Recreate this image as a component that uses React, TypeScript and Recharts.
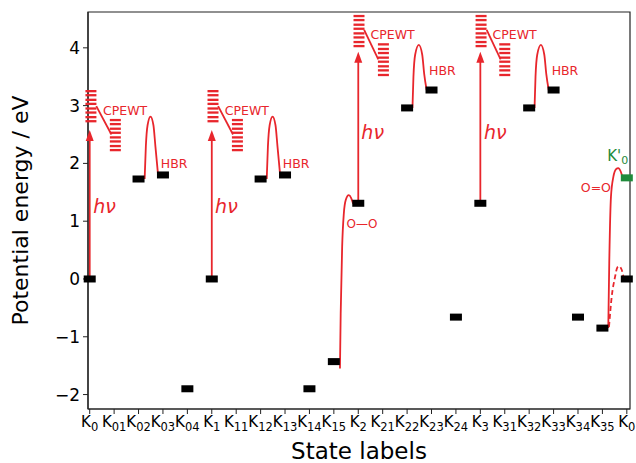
import React from 'react';
import { ComposedChart, XAxis, YAxis, Line, Scatter, ReferenceArea } from 'recharts';

const RED = '#e8262c';
const GREEN = '#1f8b3b';
const FONT = 'DejaVu Sans';

// axes
const xDomain = [-0.07, 22.13];
const yDomain = [-2.25, 4.62];
const yTicks = [-2, -1, 0, 1, 2, 3, 4];
const tickSubs = ['0', '01', '02', '03', '04', '1', '11', '12', '13', '14', '15', '2', '21', '22', '23', '24', '3', '31', '32', '33', '34', '35', '0'];
const xTicks = tickSubs.map((_, i) => i);

// state energies (black bars)
const stateX = [0, 2, 3, 4, 5, 7, 8, 9, 10, 11, 13, 14, 15, 16, 18, 19, 20, 21, 22];
const stateE = [0, 1.73, 1.8, -1.9, 0, 1.73, 1.8, -1.9, -1.43, 1.31, 2.96, 3.27, -0.66, 1.31, 2.96, 3.27, -0.66, -0.85, 0];
// K'0 (green)
const primeState = [{ x: 22, y: 1.75 }];

// photon excitation arrows
const photonX = [0, 5, 11, 16];
const photonFrom = [0, 0, 1.31, 1.31];
const photonTo = [2.58, 2.58, 3.93, 3.93];

// CPEWT level stacks
const stackX = [0.05, 1.05, 5.05, 6.05, 11.03, 12.03, 16.03, 17.0];
const lowUpper = [3.25, 3.18, 3.1, 3.03, 2.95, 2.88, 2.8, 2.73];
const lowLower = [2.75, 2.68, 2.6, 2.53, 2.45, 2.38, 2.3, 2.23];
const highUpper = [4.55, 4.48, 4.4, 4.33, 4.25, 4.18, 4.1, 4.03];
const highLower = [4.06, 3.98, 3.91, 3.83, 3.76, 3.68, 3.61, 3.53];
const stackLevels = [lowUpper, lowLower, lowUpper, lowLower, highUpper, highLower, highUpper, highLower];

const cpewtLinks = [
  [{ x: 0.27, y: 2.99 }, { x: 0.89, y: 2.5 }],
  [{ x: 5.26, y: 2.99 }, { x: 5.87, y: 2.5 }],
  [{ x: 11.24, y: 4.31 }, { x: 11.82, y: 3.8 }],
  [{ x: 16.26, y: 4.31 }, { x: 16.83, y: 3.8 }],
];

// HBR barriers
const hbr0 = [{ x: 2.25, y: 1.73 }, { x: 2.3, y: 2.3 }, { x: 2.37, y: 2.66 }, { x: 2.49, y: 2.81 }, { x: 2.61, y: 2.66 }, { x: 2.69, y: 2.3 }, { x: 2.8, y: 1.8 }];
const hbr1 = [{ x: 7.25, y: 1.73 }, { x: 7.3, y: 2.3 }, { x: 7.37, y: 2.66 }, { x: 7.49, y: 2.81 }, { x: 7.61, y: 2.66 }, { x: 7.69, y: 2.3 }, { x: 7.8, y: 1.8 }];
const hbr2 = [{ x: 13.22, y: 2.96 }, { x: 13.26, y: 3.5 }, { x: 13.33, y: 3.88 }, { x: 13.48, y: 4.05 }, { x: 13.62, y: 3.88 }, { x: 13.7, y: 3.55 }, { x: 13.8, y: 3.27 }];
const hbr3 = [{ x: 18.22, y: 2.96 }, { x: 18.26, y: 3.5 }, { x: 18.33, y: 3.88 }, { x: 18.48, y: 4.05 }, { x: 18.62, y: 3.88 }, { x: 18.7, y: 3.55 }, { x: 18.8, y: 3.27 }];

// O-O and O=O barriers
const ooSingle = [{ x: 10.25, y: -1.55 }, { x: 10.28, y: -0.6 }, { x: 10.34, y: 0.56 }, { x: 10.41, y: 1.14 }, { x: 10.49, y: 1.37 }, { x: 10.61, y: 1.45 }, { x: 10.71, y: 1.4 }, { x: 10.79, y: 1.3 }];
const ooDouble = [{ x: 21.24, y: -0.85 }, { x: 21.28, y: 0.27 }, { x: 21.35, y: 1.42 }, { x: 21.45, y: 1.77 }, { x: 21.56, y: 1.9 }, { x: 21.65, y: 1.92 }, { x: 21.75, y: 1.86 }, { x: 21.82, y: 1.77 }];
const ooDashed = [{ x: 21.27, y: -0.83 }, { x: 21.38, y: -0.31 }, { x: 21.52, y: 0.04 }, { x: 21.61, y: 0.2 }, { x: 21.68, y: 0.22 }, { x: 21.79, y: 0.16 }, { x: 21.86, y: 0.04 }];

// annotation texts
const hvLabels = [{ x: 0.61, y: 1.26 }, { x: 5.6, y: 1.26 }, { x: 11.59, y: 2.55 }, { x: 16.61, y: 2.55 }];
const cpewtLabels = [{ x: 0.545, y: 2.92 }, { x: 5.53, y: 2.92 }, { x: 11.5, y: 4.23 }, { x: 16.5, y: 4.23 }];
const hbrLabels = [{ x: 2.91, y: 2.0 }, { x: 7.91, y: 2.0 }, { x: 13.9, y: 3.6 }, { x: 18.92, y: 3.6 }];
const singleLabel = [{ x: 10.52, y: 0.96 }];
const doubleLabel = [{ x: 21.35, y: 1.59 }];
const primeLabel = [{ x: 21.2, y: 2.13 }];

const stateData = stateX.map((x, i) => ({ x, y: stateE[i] }));
const stackData = stackX.flatMap((x, i) => stackLevels[i].map((y) => ({ x, y })));
const arrowTips = photonX.map((x, i) => ({ x, y: photonTo[i] }));

const StateTick = (props: any) => {
  const { x, y, payload } = props;
  return (
    <text x={x} y={y} textAnchor="middle" fontFamily={FONT} fill="#000">
      <tspan fontSize={15} dy="0.71em">K</tspan>
      <tspan fontSize={11.5} dy={4}>{tickSubs[payload.value]}</tspan>
    </text>
  );
};

const barShape = (fill: string) => (p: any) => (
  <rect x={p.cx - 6} y={p.cy - 3.5} width={12} height={7} fill={fill} />
);

const stackShape = (p: any) => (
  <line x1={p.cx - 5.5} x2={p.cx + 5.5} y1={p.cy} y2={p.cy} stroke={RED} strokeWidth={2.3} />
);

const arrowShape = (p: any) => (
  <polygon points={`${p.cx},${p.cy} ${p.cx - 4},${p.cy + 11} ${p.cx + 4},${p.cy + 11}`} fill={RED} />
);

const textShape = (text: string, anchor: string, size: number, italic = false) => (p: any) => (
  <text x={p.cx} y={p.cy} textAnchor={anchor} dominantBaseline="central" fontFamily={FONT}
    fontSize={size} fontStyle={italic ? 'italic' : 'normal'} fill={RED}>{text}</text>
);

const primeShape = (p: any) => (
  <text x={p.cx} y={p.cy} dominantBaseline="central" fontFamily={FONT} fill={GREEN}>
    <tspan fontSize={15}>K'</tspan>
    <tspan fontSize={11} dy={4}>0</tspan>
  </text>
);

const curve = (pts: { x: number; y: number }[], key: string, dashed = false, linear = false) => (
  <Line key={key} data={pts} dataKey="y" type={linear ? 'linear' : 'monotone'} stroke={RED}
    strokeWidth={1.8} strokeDasharray={dashed ? '5 3' : undefined} dot={false} activeDot={false}
    isAnimationActive={false} />
);

export default function App() {
  return (
    <div style={{ position: 'absolute', left: 0, top: 0, background: '#fff' }}>
      <ComposedChart width={636} height={463} margin={{ top: 12, right: 6, bottom: 0, left: 0 }}>
        <XAxis dataKey="x" type="number" domain={xDomain} ticks={xTicks} interval={0} height={54}
          tick={<StateTick />} tickSize={5} tickMargin={2}
          axisLine={{ stroke: '#222', strokeWidth: 1.2 }} tickLine={{ stroke: '#222' }}
          label={{ value: 'State labels', position: 'insideBottom', offset: 4, fontSize: 23, fontFamily: FONT, fill: '#000' }} />
        <YAxis dataKey="y" type="number" domain={yDomain} ticks={yTicks} width={88}
          tickSize={5} tickMargin={3}
          tickFormatter={(v: number) => (v < 0 ? '\u2212' + Math.abs(v) : String(v))}
          tick={{ fill: '#000', fontSize: 17, fontFamily: FONT }}
          axisLine={{ stroke: '#222', strokeWidth: 1.2 }} tickLine={{ stroke: '#222' }}
          label={{ value: 'Potential energy / eV', angle: -90, position: 'insideLeft', offset: 20,
            fontSize: 22, fontFamily: FONT, fill: '#000', style: { textAnchor: 'middle' } }} />
        <ReferenceArea x1={xDomain[0]} x2={xDomain[1]} y1={yDomain[0]} y2={yDomain[1]}
          fill="none" fillOpacity={0} stroke="#222" strokeWidth={1.2} />

        {photonX.map((x, i) =>
          curve([{ x, y: photonFrom[i] }, { x, y: photonTo[i] - 0.12 }], 'ph' + i, false, true))}
        {cpewtLinks.map((seg, i) => curve(seg, 'ln' + i, false, true))}
        {[hbr0, hbr1, hbr2, hbr3].map((c, i) => curve(c, 'hbr' + i))}
        {curve(ooSingle, 'oo1')}
        {curve(ooDouble, 'oo2')}
        {curve(ooDashed, 'oo3', true)}

        <Scatter data={arrowTips} dataKey="y" shape={arrowShape} isAnimationActive={false} />
        <Scatter data={stackData} dataKey="y" shape={stackShape} isAnimationActive={false} />
        <Scatter data={stateData} dataKey="y" shape={barShape('#000')} isAnimationActive={false} />
        <Scatter data={primeState} dataKey="y" shape={barShape(GREEN)} isAnimationActive={false} />

        <Scatter data={hvLabels} dataKey="y" shape={textShape('h\u03bd', 'middle', 19, true)} isAnimationActive={false} />
        <Scatter data={cpewtLabels} dataKey="y" shape={textShape('CPEWT', 'start', 12.5)} isAnimationActive={false} />
        <Scatter data={hbrLabels} dataKey="y" shape={textShape('HBR', 'start', 12.5)} isAnimationActive={false} />
        <Scatter data={singleLabel} dataKey="y" shape={textShape('O\u2014O', 'start', 12)} isAnimationActive={false} />
        <Scatter data={doubleLabel} dataKey="y" shape={textShape('O=O', 'end', 12.5)} isAnimationActive={false} />
        <Scatter data={primeLabel} dataKey="y" shape={primeShape} isAnimationActive={false} />
      </ComposedChart>
    </div>
  );
}
